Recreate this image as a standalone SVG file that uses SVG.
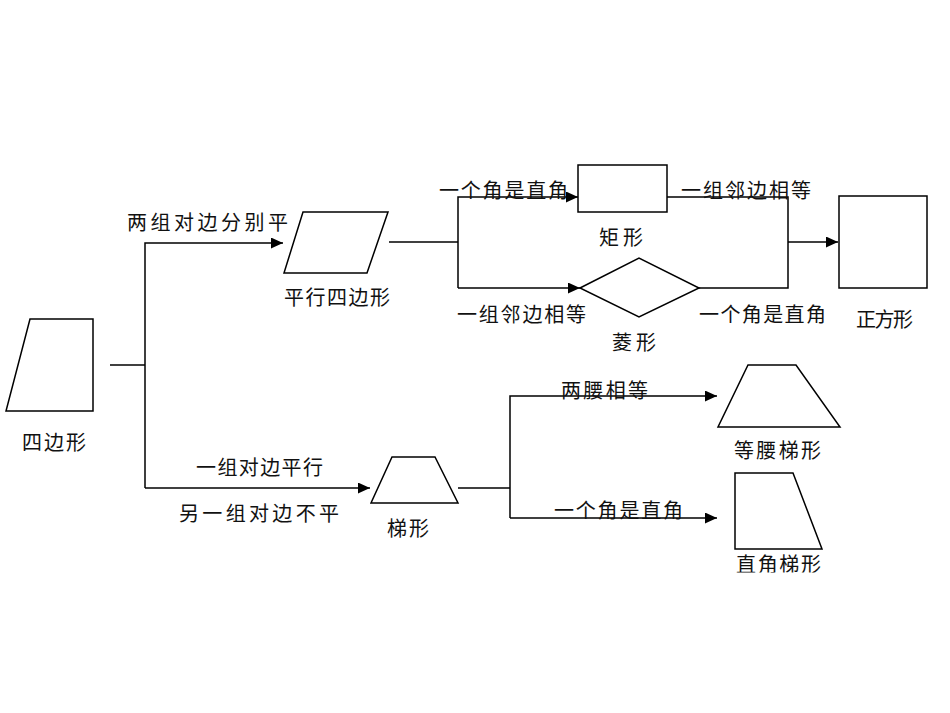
<svg xmlns="http://www.w3.org/2000/svg" width="950" height="713" viewBox="0 0 950 713">
<style>
.s{fill:#fff;stroke:#000;stroke-width:1.5}
.c{fill:none;stroke:#000;stroke-width:1.5}
.t{font-family:"Liberation Sans","Noto Sans CJK SC",sans-serif;font-size:20px;fill:#111}
</style>
<defs>
<marker id="ah" markerUnits="userSpaceOnUse" markerWidth="13" markerHeight="11" refX="12" refY="5.5" orient="auto">
<path d="M0,0 L12,5.5 L0,11 z" fill="#000"/>
</marker>
<clipPath id="clipRt"><rect x="720" y="551" width="120" height="21.5"/></clipPath>
</defs>
<rect width="950" height="713" fill="#fff"/>
<g id="connectors">
<path class="c" d="M110,365 H145"/>
<path class="c" d="M145,488 V243 H283" marker-end="url(#ah)"/>
<path class="c" d="M145,488 H370" marker-end="url(#ah)"/>
<path class="c" d="M389,242 H458"/>
<path class="c" d="M458,288 V197 H578" marker-end="url(#ah)"/>
<path class="c" d="M458,288 H580" marker-end="url(#ah)"/>
<path class="c" d="M667,197 H788 V288 H699"/>
<path class="c" d="M788,242 H838" marker-end="url(#ah)"/>
<path class="c" d="M458,488 H510"/>
<path class="c" d="M510,518 V396 H717" marker-end="url(#ah)"/>
<path class="c" d="M510,518 H717" marker-end="url(#ah)"/>
</g>
<g id="labels">
<text class="t" x="127" y="229.5" textLength="161" lengthAdjust="spacing">两组对边分别平</text>
<text class="t" x="439" y="197.5" textLength="129" lengthAdjust="spacing">一个角是直角</text>
<text class="t" x="457" y="321.5" textLength="129" lengthAdjust="spacing">一组邻边相等</text>
<text class="t" x="681" y="197.5" textLength="130" lengthAdjust="spacing">一组邻边相等</text>
<text class="t" x="699" y="321.5" textLength="127" lengthAdjust="spacing">一个角是直角</text>
<text class="t" x="196" y="474.5" textLength="127" lengthAdjust="spacing">一组对边平行</text>
<text class="t" x="179" y="520.5" textLength="160" lengthAdjust="spacing">另一组对边不平</text>
<text class="t" x="561" y="397.5" textLength="87" lengthAdjust="spacing">两腰相等</text>
<text class="t" x="554" y="517.5" textLength="129" lengthAdjust="spacing">一个角是直角</text>
</g>
<g id="quadrilateral">
<polygon class="s" points="30,319 93,319 93,411 6,411"/>
<text class="t" x="22" y="449.5" textLength="64" lengthAdjust="spacing">四边形</text>
</g>
<g id="parallelogram">
<polygon class="s" points="303,212 388,212 367,273 284,273"/>
<text class="t" x="284" y="304.5" textLength="106" lengthAdjust="spacing">平行四边形</text>
</g>
<g id="rectangle">
<rect class="s" x="578" y="165" width="89" height="47"/>
<text class="t" x="599" y="244.5" textLength="44" lengthAdjust="spacing">矩形</text>
</g>
<g id="rhombus">
<polygon class="s" points="580,288 639,258 699,288 639,317"/>
<text class="t" x="612" y="349.5" textLength="44" lengthAdjust="spacing">菱形</text>
</g>
<g id="square">
<rect class="s" x="839" y="196" width="88" height="92"/>
<text class="t" x="856" y="327" textLength="57" lengthAdjust="spacing">正方形</text>
</g>
<g id="trapezoid">
<polygon class="s" points="392,457 435,457 458,503 371,503"/>
<text class="t" x="387" y="535.5" textLength="42" lengthAdjust="spacing">梯形</text>
</g>
<g id="isosceles-trapezoid">
<polygon class="s" points="748,365 796,365 840,427 718,427"/>
<text class="t" x="734" y="457.5" textLength="87" lengthAdjust="spacing">等腰梯形</text>
</g>
<g id="right-trapezoid">
<polygon class="s" points="735,473 793,473 822,549 735,549"/>
<text class="t" x="736" y="571.5" textLength="85" lengthAdjust="spacing" clip-path="url(#clipRt)">直角梯形</text>
</g>
</svg>
